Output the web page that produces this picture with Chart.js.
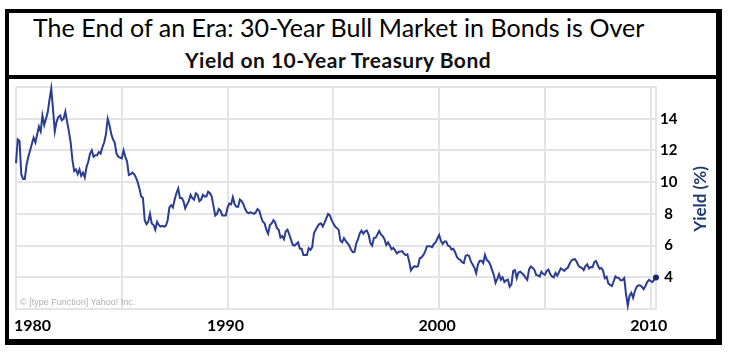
<!DOCTYPE html>
<html><head><meta charset="utf-8">
<script src="https://cdn.jsdelivr.net/npm/chart.js@4.4.1/dist/chart.umd.min.js"></script>
<style>
html,body{margin:0;padding:0;background:#fff;width:729px;height:360px;overflow:hidden;}
#frame{position:absolute;left:5px;top:9px;width:717px;height:336px;box-sizing:border-box;border-style:solid;border-color:#000;border-width:4px 6px 6px 4px;}
#sep{position:absolute;left:5px;top:75px;width:717px;height:4px;background:#000;}
#title{position:absolute;left:33px;top:12px;font-family:Lato,sans-serif;font-size:25px;letter-spacing:0.05px;color:#000;white-space:nowrap;line-height:30px;}
#subtitle{position:absolute;left:185px;top:47px;font-family:Lato,sans-serif;font-weight:bold;font-size:21px;letter-spacing:0.5px;color:#111;white-space:nowrap;line-height:26px;}
#ytitle{position:absolute;left:660px;top:189px;width:80px;height:20px;line-height:20px;text-align:center;font-family:Lato,sans-serif;font-weight:bold;font-size:17px;color:#1f3a6e;transform:rotate(-90deg);white-space:nowrap;}
#credit{position:absolute;left:20px;top:297px;font-family:Arial,'Liberation Sans',sans-serif;font-size:9px;color:#b0b0b0;white-space:nowrap;}
canvas{position:absolute;left:0;top:0;}
</style>
</head><body>
<div id="frame"></div>
<div id="sep"></div>
<div id="title">The End of an Era: 30-Year Bull Market in Bonds is Over</div>
<div id="subtitle">Yield on 10-Year Treasury Bond</div>
<canvas id="c" width="729" height="360"></canvas>
<div id="credit">© [type Function] Yahoo! Inc.</div>
<div id="ytitle">Yield (%)</div>
<script>
const startYear = 1980;
const endYear = 2010.25;
// monthly closing yield (%), Jan 1980 .. Apr 2010
const yields = [
 11.2,12.7,12.6,10.5,10.2,10.2,11.1,11.6,12.0,12.4,12.8,12.5,
 13.0,13.5,13.2,14.2,13.6,14.0,14.4,15.2,15.9,14.6,13.2,13.8,
 14.1,14.2,13.9,14.0,14.45,13.8,13.2,12.5,11.4,10.7,10.8,10.5,
 10.8,10.4,10.6,10.3,10.95,11.3,11.8,12.0,11.6,11.7,11.7,11.9,
 11.8,12.2,12.5,13.0,14.0,13.6,13.05,12.7,12.5,11.8,11.6,11.55,
 11.5,12.0,11.6,11.3,10.45,10.5,10.6,10.5,10.3,10.0,9.6,9.1,
 9.0,7.6,7.35,7.5,8.0,7.4,7.3,7.0,7.5,7.3,7.2,7.25,
 7.2,7.25,7.6,8.4,8.55,8.4,8.9,9.3,9.6,9.0,9.0,8.8,
 8.35,8.6,8.8,9.2,9.0,8.9,9.3,9.2,8.8,8.9,9.2,9.1,
 9.1,9.4,9.3,9.1,8.5,7.9,8.0,8.3,8.2,7.9,7.9,7.9,
 8.4,8.65,8.6,9.05,8.6,8.45,8.45,8.9,8.8,8.6,8.3,8.1,
 8.05,8.1,8.05,8.0,8.1,8.3,8.2,7.8,7.5,7.4,7.0,6.75,
 7.3,7.4,7.6,7.45,7.1,7.0,6.5,6.6,6.4,6.9,7.0,6.7,
 6.36,6.04,6.0,6.1,6.2,5.8,5.8,5.4,5.4,5.4,5.84,5.73,
 5.9,6.78,7.0,7.2,7.35,7.4,7.2,7.45,7.72,8.0,7.9,7.6,
 7.4,7.2,7.1,7.0,6.3,6.2,6.47,6.3,6.15,6.0,5.75,5.58,
 5.6,6.15,6.4,6.78,6.94,6.75,6.9,6.95,6.7,6.15,6.0,6.47,
 6.5,6.7,6.92,6.7,6.6,6.4,6.04,6.2,6.0,5.77,5.85,5.7,
 5.5,5.6,5.62,5.65,5.5,5.4,5.45,5.0,4.43,4.6,4.7,4.65,
 4.7,5.2,5.25,5.4,5.6,5.94,5.95,5.95,5.9,6.1,6.2,6.45,
 6.67,6.3,6.1,6.25,6.25,6.0,5.95,5.75,5.8,5.6,5.3,5.15,
 5.1,4.95,4.9,5.35,5.4,5.35,5.0,4.8,4.6,4.25,4.8,5.05,
 5.05,4.9,5.41,5.1,5.0,4.8,4.47,4.15,3.65,3.9,4.2,3.84,
 4.0,3.7,3.8,3.85,3.4,3.55,4.4,4.45,3.95,4.3,4.35,4.25,
 4.15,3.98,3.84,4.5,4.68,4.6,4.48,4.15,4.12,4.05,4.35,4.22,
 4.15,4.4,4.48,4.2,4.05,4.0,4.28,4.1,4.33,4.56,4.49,4.4,
 4.53,4.6,4.85,5.05,5.12,5.14,4.98,4.73,4.63,4.6,4.46,4.7,
 4.82,4.56,4.64,4.63,4.95,5.03,4.76,4.54,4.58,4.4,3.94,4.03,
 3.6,3.52,3.45,3.75,4.06,3.97,3.95,3.81,3.83,3.95,2.93,2.21,
 2.84,3.02,2.7,3.12,3.4,3.5,3.48,3.4,3.25,3.45,3.7,3.84,
 3.75,3.7,3.85,3.99
];
const xGridYears = [1980,1985,1990,1995,2000,2005,2010];
const xLabelYears = [1980,1990,2000,2010];
const yGridValues = [2,4,6,8,10,12,14,16];
const yLabelValues = [4,6,8,10,12,14];

const points = yields.map((v,i)=>({x: startYear + i/12, y: v}));
const gridColor = '#e4e4e4';

new Chart(document.getElementById('c'), {
  type: 'line',
  data: { datasets: [{
    data: points,
    borderColor: '#2b3c92',
    borderWidth: 2,
    tension: 0,
    clip: 8,
    pointRadius: ctx => ctx.dataIndex === yields.length - 1 ? 3 : 0,
    pointBackgroundColor: '#17276e',
    pointBorderColor: '#17276e',
    pointBorderWidth: 0
  }]},
  options: {
    responsive: false,
    animation: false,
    devicePixelRatio: 1,
    layout: { padding: { left: 16, top: 87, right: 47, bottom: 21 } },
    plugins: { legend: { display: false }, tooltip: { enabled: false } },
    scales: {
      x: {
        type: 'linear', min: startYear, max: endYear,
        afterBuildTicks: s => { s.ticks = xGridYears.concat([endYear]).map(v => ({value: v})); },
        afterFit: s => { s.height = 30; },
        grid: { color: gridColor, lineWidth: 2, drawTicks: false },
        border: { display: true, color: gridColor, width: 2 },
        ticks: {
          autoSkip: false, maxRotation: 0, align: 'inner', padding: 7, labelOffset: -2,
          color: '#000', font: { family: 'Lato', weight: 'bold', size: 16 },
          callback: v => xLabelYears.includes(v) ? String(v) : ''
        }
      },
      y: {
        position: 'right', min: 2, max: 16,
        afterBuildTicks: s => { s.ticks = yGridValues.map(v => ({value: v})); },
        afterFit: s => { s.width = 26; },
        grid: { color: gridColor, lineWidth: 2, drawTicks: false },
        border: { display: true, color: gridColor, width: 2 },
        ticks: {
          crossAlign: 'center', padding: 4,
          color: '#000', font: { family: 'Lato', weight: 'bold', size: 15 },
          callback: v => yLabelValues.includes(v) ? String(v) : ''
        }
      }
    }
  }
});
</script>
</body></html>
